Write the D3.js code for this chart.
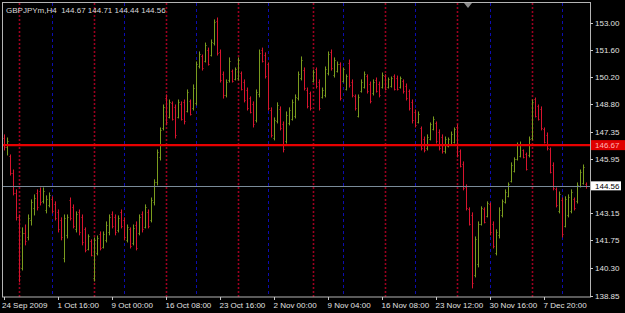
<!DOCTYPE html>
<html>
<head>
<meta charset="utf-8">
<script src="https://cdn.jsdelivr.net/npm/d3@7"></script>
<style>
  body { margin: 0; background: #000; }
  svg { display: block; }
  text { font-family: "Liberation Sans", Arial, sans-serif; font-size: 8px; }
</style>
</head>
<body>
<script>
const w = 625;
const h = 313;

const symbol = "GBPJPYm,H4";

// H4 bars, oldest first
const opens = [
  147.05,146.55,146.10,145.25,144.20,142.95,140.30,142.10,141.90,142.80,
  143.40,144.20,144.30,143.75,143.30,143.55,143.90,143.60,143.20,142.80,
  140.80,142.00,143.80,143.45,142.30,143.20,142.95,142.30,141.30,141.70,
  139.80,141.10,142.05,141.40,141.75,142.15,143.10,142.95,142.25,143.20,
  142.80,141.75,142.30,141.60,142.55,142.10,143.10,142.45,143.20,142.80,
  143.70,144.75,146.05,147.55,149.10,148.15,148.85,148.65,148.15,148.80,
  148.90,148.45,148.95,148.60,148.85,150.75,151.30,151.05,151.60,151.35,
  151.95,153.10,151.50,150.35,149.25,150.05,150.50,150.10,150.15,150.40,
  149.95,149.55,149.10,148.80,147.95,149.30,151.60,151.35,150.85,148.50,
  147.05,147.90,148.55,147.75,146.90,147.80,148.05,148.20,149.10,150.15,
  150.55,149.55,149.35,150.00,150.60,149.95,149.15,149.25,150.40,151.50,
  150.30,150.50,150.85,150.00,149.60,150.95,149.95,149.20,148.20,149.45,
  149.70,150.25,149.85,149.35,150.05,149.85,149.70,150.25,149.70,149.75,
  150.25,150.15,149.70,150.00,149.75,149.45,148.90,148.40,147.85,147.55,
  147.00,146.50,147.00,147.50,147.80,147.35,147.10,146.35,146.60,146.75,
  146.85,147.60,146.35,145.70,144.50,143.35,143.05,139.95,140.50,142.60,
  143.35,143.00,143.60,142.60,141.10,142.00,143.05,143.70,144.05,144.80,
  145.35,145.95,146.10,146.40,146.20,146.15,147.05,149.05,148.70,148.55,
  147.50,147.20,146.45,145.65,144.40,143.25,143.85,142.50,143.05,143.25,
  143.90,143.75,144.55,144.70,144.67
];
const highs = [
  147.20,147.04,146.16,145.38,144.35,143.05,142.38,142.53,143.05,143.83,
  144.09,144.35,144.45,144.45,144.04,144.19,143.99,143.73,143.31,142.90,
  143.05,143.05,143.93,143.57,143.21,143.31,143.05,142.38,142.02,141.76,
  141.86,141.96,142.17,142.17,142.69,143.05,143.21,143.05,143.00,143.31,
  142.90,142.53,142.38,142.53,142.69,143.05,143.21,143.57,143.31,143.93,
  144.87,146.42,147.56,148.75,149.27,149.01,148.91,148.75,149.01,148.91,
  149.01,149.53,149.01,149.79,150.98,151.50,151.34,151.96,151.70,152.12,
  153.16,153.26,151.60,150.46,150.05,151.19,150.56,150.67,151.19,150.46,
  150.05,149.63,149.17,148.91,149.53,151.60,151.70,151.45,150.93,148.60,
  148.08,148.86,148.65,147.87,148.39,148.60,149.01,149.27,150.46,151.24,
  150.67,149.63,149.42,150.56,150.67,150.05,149.63,150.72,151.50,151.60,
  151.19,150.98,150.93,150.67,150.31,151.08,150.05,149.27,149.27,150.05,
  150.46,150.31,149.94,150.05,150.15,149.94,150.41,150.31,150.15,150.20,
  150.31,150.25,150.20,150.05,149.84,149.53,149.01,148.49,148.39,147.61,
  147.09,147.20,147.82,148.13,147.87,147.46,147.20,147.09,147.04,147.35,
  147.56,147.72,146.42,145.80,144.61,143.42,143.16,141.91,142.69,143.47,
  143.42,143.73,143.67,142.69,142.28,143.42,143.83,144.35,144.71,145.75,
  146.01,146.78,146.83,146.42,146.26,147.09,149.01,149.11,148.75,148.65,
  147.56,147.30,146.52,145.75,144.45,144.24,143.93,143.99,144.09,144.35,
  143.93,144.71,145.38,145.64,144.71
];
const lows = [
  146.42,146.16,145.12,144.09,142.79,139.58,140.20,141.50,141.76,142.53,
  143.05,143.31,143.57,143.67,143.16,143.47,143.16,142.79,142.17,141.76,
  140.62,141.86,142.79,142.38,142.17,142.02,141.50,141.14,141.24,140.93,
  139.63,140.98,141.24,141.34,141.65,142.02,142.38,142.02,142.17,142.38,
  141.76,141.65,141.34,141.50,141.24,142.02,142.17,142.38,142.38,142.69,
  143.57,144.61,145.90,147.46,147.72,148.08,147.97,147.04,148.08,147.97,
  147.77,148.39,148.23,148.49,148.75,150.67,150.56,150.98,150.82,151.29,
  151.86,151.34,149.94,149.11,149.17,149.94,149.94,150.05,150.05,149.53,
  148.91,148.49,148.34,147.61,147.87,149.17,150.98,150.15,148.49,147.09,
  146.94,147.82,147.46,146.32,146.78,147.72,147.97,148.08,149.01,150.05,
  149.53,148.60,148.49,149.94,149.63,148.49,149.11,149.17,150.31,150.56,
  150.20,150.46,149.01,149.94,149.53,149.68,149.17,148.49,148.13,149.42,
  149.63,149.37,148.86,149.27,149.42,149.17,149.63,149.53,149.63,149.68,
  149.53,149.53,149.63,149.37,149.01,148.49,147.82,147.61,147.82,146.42,
  146.32,146.42,146.94,147.46,146.78,146.42,146.26,146.26,146.58,146.68,
  146.78,146.06,145.54,144.35,143.31,142.53,139.27,139.84,140.36,142.53,
  142.64,142.95,142.02,141.34,140.98,141.86,142.95,143.67,143.99,144.76,
  145.28,145.90,146.06,146.01,145.38,146.06,146.94,148.13,147.97,147.46,
  146.78,146.42,145.23,144.35,143.47,143.16,141.91,142.43,142.95,143.16,
  143.31,143.67,144.50,144.65,144.44
];
const closes = [
  146.55,146.90,145.25,144.20,142.95,139.90,142.10,141.70,142.90,143.70,
  143.95,143.45,143.70,144.30,143.90,144.10,143.25,142.90,142.30,141.90,
  142.90,142.95,142.90,142.50,143.10,142.15,141.65,141.25,141.95,141.00,
  141.75,141.85,141.35,142.05,142.55,142.95,142.50,142.15,142.90,142.50,
  141.90,142.45,141.45,142.40,141.35,142.95,142.30,143.45,142.50,143.80,
  144.75,146.30,147.45,148.65,147.85,148.90,148.05,147.20,148.90,148.05,
  147.90,149.40,148.30,149.65,150.85,151.40,150.65,151.85,150.90,152.00,
  153.05,151.45,150.05,149.25,149.95,151.05,150.00,150.60,151.10,149.60,
  149.00,148.60,148.40,147.75,149.40,151.45,151.05,150.25,148.60,147.20,
  147.95,148.75,147.55,146.45,148.25,148.50,148.90,149.15,150.35,151.10,
  149.65,148.70,148.60,150.45,149.75,148.60,149.55,150.60,151.40,150.65,
  151.10,150.90,149.10,150.60,150.25,149.80,149.25,148.60,149.15,149.95,
  150.35,149.45,148.95,149.95,149.50,149.25,150.30,149.60,150.10,150.15,
  149.60,149.60,150.15,149.45,149.10,148.60,147.95,147.70,148.30,146.50,
  146.40,147.10,147.75,148.05,146.90,146.50,146.35,147.00,147.00,147.25,
  147.50,146.15,145.60,144.45,143.40,142.60,139.50,141.80,142.60,143.40,
  142.70,143.65,142.15,141.45,142.15,143.30,143.75,144.25,144.65,145.65,
  145.95,146.70,146.75,146.05,145.45,147.00,148.90,148.20,148.05,147.55,
  146.85,146.50,145.30,144.45,143.55,144.15,142.05,143.90,144.00,144.25,
  143.40,144.60,145.30,145.55,144.56
];

const xLabels = ["24 Sep 2009", "1 Oct 16:00", "9 Oct 00:00", "16 Oct 08:00", "23 Oct 16:00",
  "2 Nov 00:00", "9 Nov 04:00", "16 Nov 08:00", "23 Nov 12:00", "30 Nov 16:00", "7 Dec 20:00"];
const xLabelBars = [0, 18, 36, 54, 72, 90, 108, 126, 144, 162, 180];
const yTicks = [153.00, 151.60, 150.20, 148.80, 147.35, 145.95, 143.15, 141.75, 140.30, 138.85];

// period separators (bar index)
const redSeps = [5, 30, 54, 78, 103, 127, 151, 176];
const blueSeps = [16, 40, 64, 88, 113, 137, 162, 186];

const hLevel = 146.67;
const bid = 144.56;

const pLeft = 2, pRight = 590, pTop = 3, pBottom = 297;

const svg = d3.select('body')
  .append('svg')
  .attr('width', w)
  .attr('height', h)
  .style("background-color", "#000");

svg.append('rect').attr('width', w).attr('height', h).attr('fill', '#000');

const n = opens.length;
const x = d3.scaleLinear().domain([0, n - 1]).range([4, 586]);
const y = d3.scaleLinear().domain([138.85, 153.00]).range([296, 23]);
const px = i => Math.round(x(i)) + 0.5;

// separators
svg.append('g').selectAll('line')
  .data(redSeps)
  .enter().append('line')
  .attr('x1', d => px(d)).attr('x2', d => px(d))
  .attr('y1', pTop).attr('y2', pBottom)
  .attr('stroke', '#9c0020').attr('stroke-width', 1.6)
  .attr('stroke-dasharray', '2,2');

svg.append('g').selectAll('line')
  .data(blueSeps)
  .enter().append('line')
  .attr('x1', d => px(d)).attr('x2', d => px(d))
  .attr('y1', pTop).attr('y2', pBottom)
  .attr('stroke', '#0c0cb0').attr('stroke-width', 1)
  .attr('stroke-dasharray', '3,3');

// bars
const upColor = '#7a9c1e';
const downColor = '#d8142e';
const bars = svg.append('g').selectAll('g')
  .data(d3.range(n))
  .enter().append('g')
  .attr('stroke', i => closes[i] >= opens[i] ? upColor : downColor)
  .attr('stroke-width', 1);

bars.append('line')
  .attr('x1', i => px(i)).attr('x2', i => px(i))
  .attr('y1', i => y(highs[i]) - 0.5).attr('y2', i => y(lows[i]) + 0.5);
bars.append('line')
  .attr('x1', i => px(i) - 1).attr('x2', i => px(i))
  .attr('y1', i => Math.round(y(opens[i])) + 0.5).attr('y2', i => Math.round(y(opens[i])) + 0.5);
bars.append('line')
  .attr('x1', i => px(i)).attr('x2', i => px(i) + 1)
  .attr('y1', i => Math.round(y(closes[i])) + 0.5).attr('y2', i => Math.round(y(closes[i])) + 0.5);

// horizontal line + bid line
svg.append('line')
  .attr('x1', pLeft).attr('x2', pRight)
  .attr('y1', y(hLevel)).attr('y2', y(hLevel))
  .attr('stroke', '#e80000').attr('stroke-width', 2.2);
svg.append('line')
  .attr('x1', pLeft).attr('x2', pRight)
  .attr('y1', Math.round(y(bid)) + 0.5).attr('y2', Math.round(y(bid)) + 0.5)
  .attr('stroke', '#7a8b99').attr('stroke-width', 1);

// frame
svg.append('rect')
  .attr('x', pLeft + 0.5).attr('y', pTop - 0.5)
  .attr('width', pRight - pLeft).attr('height', pBottom - pTop + 0.5)
  .attr('fill', 'none').attr('stroke', '#b4b4b4');

// chart shift marker
svg.append('path')
  .attr('d', 'M464,3L472,3L468,8Z')
  .attr('fill', '#8c8c8c');

// y axis
const yAxis = svg.append('g');
yAxis.selectAll('line')
  .data(yTicks)
  .enter().append('line')
  .attr('x1', pRight).attr('x2', pRight + 3)
  .attr('y1', d => Math.round(y(d)) + 0.5).attr('y2', d => Math.round(y(d)) + 0.5)
  .attr('stroke', '#c8c8c8');
yAxis.selectAll('text')
  .data(yTicks)
  .enter().append('text')
  .attr('x', pRight + 5)
  .attr('y', d => y(d))
  .attr('dy', '0.35em')
  .attr('fill', '#e0e0e0')
  .text(d => d.toFixed(2));

// price labels
svg.append('rect')
  .attr('x', pRight + 1).attr('y', y(hLevel) - 5)
  .attr('width', w - pRight - 1).attr('height', 10)
  .attr('fill', '#e00000');
svg.append('text')
  .attr('x', pRight + 5).attr('y', y(hLevel)).attr('dy', '0.35em')
  .attr('fill', '#ffb4b4')
  .text(hLevel.toFixed(2));

svg.append('rect')
  .attr('x', pRight + 1).attr('y', y(bid) - 4.5)
  .attr('width', 30).attr('height', 9)
  .attr('fill', '#ffffff');
svg.append('text')
  .attr('x', pRight + 5).attr('y', y(bid)).attr('dy', '0.35em')
  .attr('fill', '#000')
  .text(bid.toFixed(2));

// x axis
const xAxis = svg.append('g');
xAxis.selectAll('line')
  .data(xLabelBars)
  .enter().append('line')
  .attr('x1', d => px(d)).attr('x2', d => px(d))
  .attr('y1', pBottom).attr('y2', pBottom + 3)
  .attr('stroke', '#c8c8c8');
xAxis.selectAll('text')
  .data(xLabels)
  .enter().append('text')
  .attr('x', (d, i) => i === 0 ? 2 : px(xLabelBars[i]) - 1)
  .attr('y', 308)
  .attr('fill', '#e0e0e0')
  .text(d => d);

// title
const last = n - 1;
svg.append('text')
  .attr('x', 6).attr('y', 13)
  .attr('fill', '#d8d8d8')
  .style('white-space', 'pre')
  .text(symbol + '  ' + [opens[last], highs[last], lows[last], closes[last]].map(v => v.toFixed(2)).join(' '));
</script>
</body>
</html>
